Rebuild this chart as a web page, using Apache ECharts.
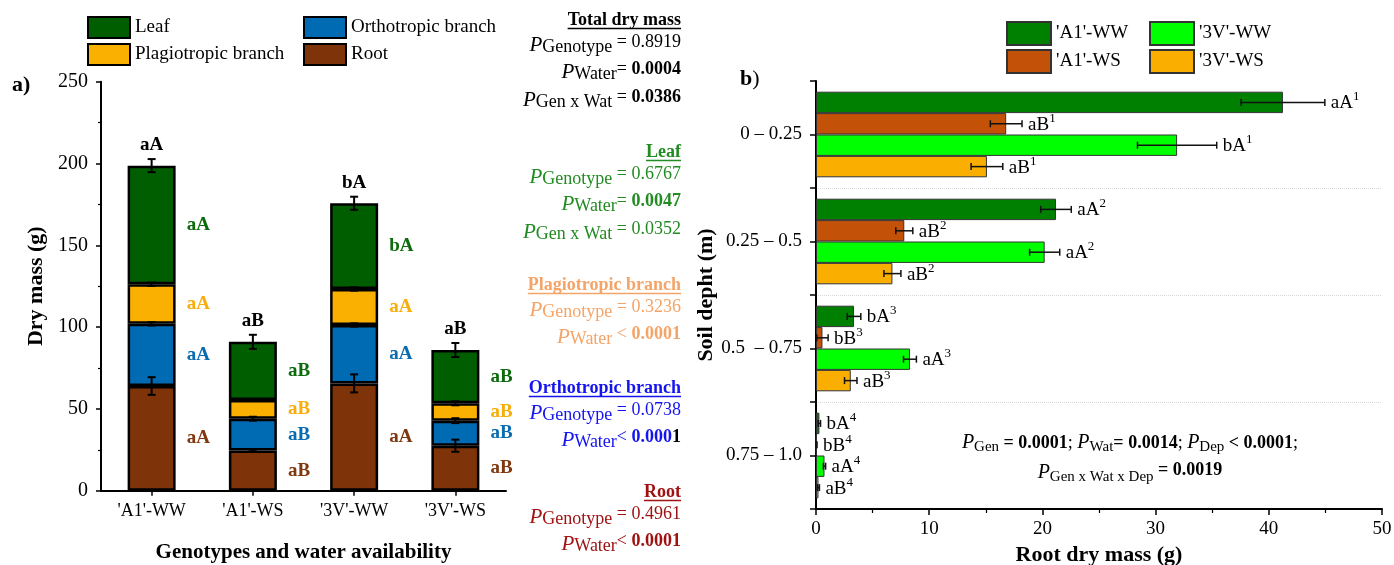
<!DOCTYPE html>
<html><head><meta charset="utf-8">
<script src="https://cdn.jsdelivr.net/npm/echarts@6/dist/echarts.min.js"></script>
<style>html,body{margin:0;padding:0;background:#fff}#c{width:1394px;height:565px}</style>
</head><body><div id="c"></div>
<script>
const FONT = "'Liberation Serif','Times New Roman',Times,serif";

// ---------- Panel a data ----------
const genotypes = ["'A1'-WW", "'A1'-WS", "'3V'-WW", "'3V'-WS"];
const rootMass   = [64.0, 24.5, 65.6, 27.5];
const rootErr    = [5.4, 0.6, 5.5, 3.7];
const orthoMass  = [38.0, 19.5, 35.7, 15.3];
const orthoErr   = [1.0, 1.2, 1.0, 1.5];
const plagioMass = [24.2, 11.4, 22.0, 10.6];
const plagioErr  = [1.0, 0.5, 1.0, 1.2];
const leafMass   = [72.5, 35.6, 52.4, 32.6];
const leafErr    = [4.0, 4.3, 4.0, 4.3];
const totalLetters  = ['aA', 'aB', 'bA', 'aB'];
const leafLetters   = ['aA', 'aB', 'bA', 'aB'];
const plagioLetters = ['aA', 'aB', 'aA', 'aB'];
const orthoLetters  = ['aA', 'aB', 'aA', 'aB'];
const rootLetters   = ['aA', 'aB', 'aA', 'aB'];

// ---------- Panel b data ----------
const depths = ['0 – 0.25', '0.25 – 0.5', '0.5  – 0.75', '0.75 – 1.0'];
const a1ww    = [41.25, 21.2, 3.36, 0.30];
const a1wwErr = [3.7, 1.35, 0.6, 0.1];
const a1ws    = [16.8, 7.8, 0.57, 0.05];
const a1wsErr = [1.4, 0.75, 0.5, 0.04];
const v3ww    = [31.9, 20.2, 8.3, 0.75];
const v3wwErr = [3.5, 1.33, 0.57, 0.1];
const v3ws    = [15.1, 6.75, 3.07, 0.22];
const v3wsErr = [1.4, 0.75, 0.55, 0.08];
const a1wwLetters = ['aA', 'aA', 'bA', 'bA'];
const a1wsLetters = ['aB', 'aB', 'bB', 'bB'];
const v3wwLetters = ['bA', 'aA', 'aA', 'aA'];
const v3wsLetters = ['aB', 'aB', 'aB', 'aB'];
const depthSup = ['1', '2', '3', '4'];

// ---------- statistics text ----------
const statTitles = ['Total dry mass', 'Leaf', 'Plagiotropic branch', 'Orthotropic branch', 'Root'];
const statTotal  = [['Genotype', ' = ', '0.8919', 0], ['Water', '= ', '0.0004', 1], ['Gen x Wat', ' = ', '0.0386', 1]];
const statLeaf   = [['Genotype', ' = ', '0.6767', 0], ['Water', '= ', '0.0047', 1], ['Gen x Wat', ' = ', '0.0352', 0]];
const statPlagio = [['Genotype', ' = ', '0.3236', 0], ['Water', ' < ', '0.0001', 1]];
const statOrtho  = [['Genotype', ' = ', '0.0738', 0], ['Water', '< ', '0.000', 2]];
const statRoot   = [['Genotype', ' = ', '0.4961', 0], ['Water', '< ', '0.0001', 1]];

// ---------- styles ----------
const C_LEAF = '#005e00', C_PLAG = '#fab000', C_ORTH = '#006ab3', C_ROOT = '#7f3308';
const L_LEAF = '#0d6b0d', L_PLAG = '#f7ae0c', L_ORTH = '#0a6cb0', L_ROOT = '#80380f';
const C_A1WW = '#008000', C_A1WS = '#c45108', C_3VWW = '#00ff00', C_3VWS = '#f9ae00';
const statColors = ['#000000', '#228b22', '#f5a468', '#1414f0', '#a01212'];

const chart = echarts.init(document.getElementById('c'));

// cumulative tops for error bars (panel a)
const segs = [rootMass, orthoMass, plagioMass, leafMass];
const segErrs = [rootErr, orthoErr, plagioErr, leafErr];
const errDataA = [];
genotypes.forEach((g, i) => {
  let cum = 0;
  segs.forEach((s, k) => { cum += s[i]; errDataA.push([i, cum, segErrs[k][i]]); });
});
const totalTop = genotypes.map((g, i) => [i, segs.reduce((a, s) => a + s[i], 0) + leafErr[i]]);

function renderErrA(params, api) {
  const x = api.value(0), top = api.value(1), e = api.value(2);
  const a = api.coord([x, top + e]), b = api.coord([x, top - e]);
  const hw = 4, st = { stroke: '#000', lineWidth: 2 };
  return { type: 'group', children: [
    { type: 'line', shape: { x1: a[0], y1: a[1], x2: b[0], y2: b[1] }, style: st },
    { type: 'line', shape: { x1: a[0] - hw, y1: a[1], x2: a[0] + hw, y2: a[1] }, style: st },
    { type: 'line', shape: { x1: b[0] - hw, y1: b[1], x2: b[0] + hw, y2: b[1] }, style: st }
  ]};
}
function renderTotal(params, api) {
  const p = api.coord([api.value(0), api.value(1)]);
  return { type: 'text', x: p[0], y: p[1] - 4, style: {
    text: totalLetters[params.dataIndex], fill: '#000', fontFamily: FONT, fontSize: 19, fontWeight: 'bold',
    align: 'center', verticalAlign: 'bottom', legacy: false } };
}
function makeRightRender(k, letters) {
  return function (params, api) {
    const v = api.value(0), cat = api.value(1), e = api.value(2);
    const band = api.size([0, 1])[1];
    const bw = band * 0.8 / 4;
    const c = api.coord([v, cat]);
    const y = c[1] - band * 0.4 + (k + 0.5) * bw;
    const x1 = api.coord([Math.max(v - e, 0), cat])[0];
    const x2 = api.coord([v + e, cat])[0];
    const ch = 3.5, st = { stroke: '#111', lineWidth: 1.5 };
    return { type: 'group', children: [
      { type: 'line', shape: { x1: x1, y1: y, x2: x2, y2: y }, style: st },
      { type: 'line', shape: { x1: x1, y1: y - ch, x2: x1, y2: y + ch }, style: st },
      { type: 'line', shape: { x1: x2, y1: y - ch, x2: x2, y2: y + ch }, style: st },
      { type: 'text', x: x2 + 6, y: y + 1, style: {
        text: '{t|' + letters[params.dataIndex] + '}{s|' + depthSup[params.dataIndex] + '}',
        align: 'left', verticalAlign: 'middle', legacy: false,
        rich: {
          t: { fontFamily: FONT, fontSize: 19, fill: '#000', lineHeight: 26, verticalAlign: 'middle' },
          s: { fontFamily: FONT, fontSize: 13, fill: '#000', lineHeight: 14, verticalAlign: 'top' }
        } } }
    ]};
  };
}

function barA(name, data, color, letters, lcolor) {
  return {
    name: name, type: 'bar', stack: 'a', xAxisIndex: 0, yAxisIndex: 0, data: data, barWidth: 48,
    itemStyle: { color: color, borderColor: '#000', borderWidth: 2.5 },
    label: { show: true, position: 'right', distance: 11, formatter: p => letters[p.dataIndex],
      color: lcolor, fontFamily: FONT, fontSize: 19, fontWeight: 'bold' },
    emphasis: { disabled: true }, silent: true
  };
}
function barB(name, data, color) {
  return {
    name: name, type: 'bar', xAxisIndex: 1, yAxisIndex: 1, data: data,
    barCategoryGap: '20%', barGap: '0%',
    itemStyle: { color: color, borderColor: '#333', borderWidth: 1 },
    emphasis: { disabled: true }, silent: true
  };
}
function errB(k, vals, errs, letters) {
  return { type: 'custom', xAxisIndex: 1, yAxisIndex: 1, z: 10, silent: true,
    data: vals.map((v, i) => [v, i, errs[i]]), encode: { x: 0, y: 1 },
    renderItem: makeRightRender(k, letters) };
}

// ---------- graphic texts ----------
const mc = document.createElement('canvas').getContext('2d');
function textWidth(font, s) { mc.font = font; return mc.measureText(s).width; }
const elements = [];
elements.push({ type: 'text', x: 12, y: 85, style: { text: 'a)', fill: '#000', fontFamily: FONT, fontSize: 22, fontWeight: 'bold', align: 'left', verticalAlign: 'middle', legacy: false } });
elements.push({ type: 'text', x: 740, y: 79, style: { text: '{b|b}{n|)}', align: 'left', verticalAlign: 'middle', legacy: false,
  rich: { b: { fontFamily: FONT, fontSize: 22, fontWeight: 'bold', fill: '#000' }, n: { fontFamily: FONT, fontSize: 22, fill: '#000' } } } });

const MID_X = 681;
const blockY = [20, 152, 285, 388, 492];
const lineDY = [25, 52, 80];
const statLines = [statTotal, statLeaf, statPlagio, statOrtho, statRoot];
statTitles.forEach((title, bi) => {
  const col = statColors[bi], y0 = blockY[bi];
  const tf = `bold 18px ${FONT}`;
  elements.push({ type: 'text', x: MID_X, y: y0, style: { text: title, fill: col, fontFamily: FONT, fontSize: 18, fontWeight: 'bold', align: 'right', verticalAlign: 'middle', legacy: false } });
  const w = textWidth(tf, title);
  elements.push({ type: 'line', shape: { x1: MID_X - w, y1: y0 + 8.5, x2: MID_X, y2: y0 + 8.5 }, style: { stroke: col, lineWidth: 1.5 } });
  statLines[bi].forEach((ln, li) => {
    const vstyle = ln[3] === 0 ? 'v' : 'vb';
    let txt = '{p|P}{s|' + ln[0] + '}{o|' + ln[1] + '}{' + vstyle + '|' + ln[2] + '}';
    if (ln[3] === 2) txt += '{k|1}';
    elements.push({ type: 'text', x: MID_X, y: y0 + lineDY[li], style: { text: txt, align: 'right', verticalAlign: 'middle', legacy: false,
      rich: {
        p: { fontFamily: FONT, fontSize: 21, fontStyle: 'italic', fill: col, lineHeight: 23, verticalAlign: 'middle' },
        s: { fontFamily: FONT, fontSize: 18, fill: col, lineHeight: 19, verticalAlign: 'bottom' },
        o: { fontFamily: FONT, fontSize: 18, fill: col, lineHeight: 19, verticalAlign: 'top' },
        v: { fontFamily: FONT, fontSize: 18, fill: col, lineHeight: 19, verticalAlign: 'top' },
        vb: { fontFamily: FONT, fontSize: 18, fontWeight: 'bold', fill: col, lineHeight: 19, verticalAlign: 'top' },
        k: { fontFamily: FONT, fontSize: 18, fontWeight: 'bold', fill: '#000', lineHeight: 19, verticalAlign: 'top' }
      } } });
  });
});

const annoRich = {
  p: { fontFamily: FONT, fontSize: 20, fontStyle: 'italic', fill: '#000', lineHeight: 24, verticalAlign: 'middle' },
  s: { fontFamily: FONT, fontSize: 15, fill: '#000', lineHeight: 16, verticalAlign: 'bottom' },
  b: { fontFamily: FONT, fontSize: 18, fontWeight: 'bold', fill: '#000', lineHeight: 20, verticalAlign: 'middle' },
  bt: { fontFamily: FONT, fontSize: 18, fontWeight: 'bold', fill: '#000', lineHeight: 20, verticalAlign: 'top' },
  n: { fontFamily: FONT, fontSize: 18, fill: '#000', lineHeight: 20, verticalAlign: 'middle' }
};
elements.push({ type: 'text', x: 1130, y: 443, style: { align: 'center', verticalAlign: 'middle', legacy: false, rich: annoRich,
  text: '{p|P}{s|Gen}{b| = 0.0001}{n|; }{p|P}{s|Wat}{b|= 0.0014}{n|; }{p|P}{s|Dep}{b| < 0.0001}{n|;}' } });
elements.push({ type: 'text', x: 1130, y: 473, style: { align: 'center', verticalAlign: 'middle', legacy: false, rich: annoRich,
  text: '{p|P}{s|Gen x Wat x Dep}{bt| = 0.0019}' } });

const axisLineBlack = { show: true, lineStyle: { color: '#000', width: 2 } };
const tickStyle = { color: '#000', width: 1.5 };
const legendText = { fontFamily: FONT, fontSize: 19, color: '#000' };

const option = {
  backgroundColor: '#fff',
  animation: false,
  grid: [
    { left: 101, right: 888, top: 81.7, bottom: 74.3, outerBoundsMode: 'none', containLabel: false },
    { left: 816, right: 12, top: 81, bottom: 56, outerBoundsMode: 'none', containLabel: false }
  ],
  legend: [
    { left: 87, top: 16, padding: 0, orient: 'vertical', data: ['Leaf', 'Plagiotropic branch'], itemWidth: 42, itemHeight: 21, itemGap: 4, icon: 'rect', selectedMode: false, textStyle: legendText },
    { left: 303, top: 16, padding: 0, orient: 'vertical', data: ['Orthotropic branch', 'Root'], itemWidth: 42, itemHeight: 21, itemGap: 4, icon: 'rect', selectedMode: false, textStyle: legendText },
    { left: 1006, top: 21, padding: 0, orient: 'vertical', data: ["'A1'-WW", "'A1'-WS"], itemWidth: 44, itemHeight: 23, itemGap: 3, icon: 'rect', selectedMode: false, textStyle: legendText },
    { left: 1149, top: 21, padding: 0, orient: 'vertical', data: ["'3V'-WW", "'3V'-WS"], itemWidth: 44, itemHeight: 23, itemGap: 3, icon: 'rect', selectedMode: false, textStyle: legendText }
  ],
  xAxis: [
    { gridIndex: 0, type: 'category', data: genotypes,
      axisLine: axisLineBlack, axisTick: { show: true, alignWithLabel: true, length: 5, lineStyle: tickStyle },
      axisLabel: { color: '#000', fontFamily: FONT, fontSize: 18, margin: 12 }, splitLine: { show: false },
      name: 'Genotypes and water availability', nameLocation: 'middle', nameGap: 51,
      nameTextStyle: { fontFamily: FONT, fontSize: 21, fontWeight: 'bold', color: '#000' } },
    { gridIndex: 1, type: 'value', min: 0, max: 50, interval: 10,
      axisLine: axisLineBlack, axisTick: { show: true, length: 6, lineStyle: tickStyle },
      minorTick: { show: true, splitNumber: 2, length: 4, lineStyle: { color: '#000', width: 1.2 } },
      axisLabel: { color: '#000', fontFamily: FONT, fontSize: 19, margin: 11 }, splitLine: { show: false }, minorSplitLine: { show: false },
      name: 'Root dry mass (g)', nameLocation: 'middle', nameGap: 33,
      nameTextStyle: { fontFamily: FONT, fontSize: 22, fontWeight: 'bold', color: '#000' } }
  ],
  yAxis: [
    { gridIndex: 0, type: 'value', min: 0, max: 250, interval: 50,
      axisLine: axisLineBlack, axisTick: { show: true, length: 5, lineStyle: tickStyle },
      minorTick: { show: true, splitNumber: 2, length: 3, lineStyle: { color: '#000', width: 1.2 } },
      axisLabel: { color: '#000', fontFamily: FONT, fontSize: 20, margin: 13 }, splitLine: { show: false }, minorSplitLine: { show: false },
      name: 'Dry mass (g)', nameLocation: 'middle', nameGap: 54, nameRotate: 90,
      nameTextStyle: { fontFamily: FONT, fontSize: 22, fontWeight: 'bold', color: '#000' } },
    { gridIndex: 1, type: 'category', data: depths, inverse: true,
      axisLine: axisLineBlack, axisTick: { show: true, length: 6, lineStyle: tickStyle },
      axisLabel: { color: '#000', fontFamily: FONT, fontSize: 19, margin: 14 },
      splitLine: { show: true, interval: (i) => i !== 0, lineStyle: { color: '#d8d8d8', type: 'dotted', width: 1 } },
      name: 'Soil depht (m)', nameLocation: 'middle', nameGap: 96, nameRotate: 90,
      nameTextStyle: { fontFamily: FONT, fontSize: 22, fontWeight: 'bold', color: '#000' } },
    { gridIndex: 1, type: 'category', data: depths, inverse: true, position: 'right', offset: -566,
      axisLine: { show: false }, axisLabel: { show: false }, splitLine: { show: false },
      axisTick: { show: true, alignWithLabel: true, inside: true, length: 6, lineStyle: tickStyle } }
  ],
  series: [
    barA('Root', rootMass, C_ROOT, rootLetters, L_ROOT),
    barA('Orthotropic branch', orthoMass, C_ORTH, orthoLetters, L_ORTH),
    barA('Plagiotropic branch', plagioMass, C_PLAG, plagioLetters, L_PLAG),
    barA('Leaf', leafMass, C_LEAF, leafLetters, L_LEAF),
    { type: 'custom', xAxisIndex: 0, yAxisIndex: 0, z: 10, silent: true, data: errDataA, encode: { x: 0, y: 1 }, renderItem: renderErrA },
    { type: 'custom', xAxisIndex: 0, yAxisIndex: 0, z: 10, silent: true, data: totalTop, encode: { x: 0, y: 1 }, renderItem: renderTotal },
    barB("'A1'-WW", a1ww, C_A1WW),
    barB("'A1'-WS", a1ws, C_A1WS),
    barB("'3V'-WW", v3ww, C_3VWW),
    barB("'3V'-WS", v3ws, C_3VWS),
    errB(0, a1ww, a1wwErr, a1wwLetters),
    errB(1, a1ws, a1wsErr, a1wsLetters),
    errB(2, v3ww, v3wwErr, v3wwLetters),
    errB(3, v3ws, v3wsErr, v3wsLetters)
  ],
  graphic: { elements: elements }
};
chart.setOption(option);
</script>
</body></html>
